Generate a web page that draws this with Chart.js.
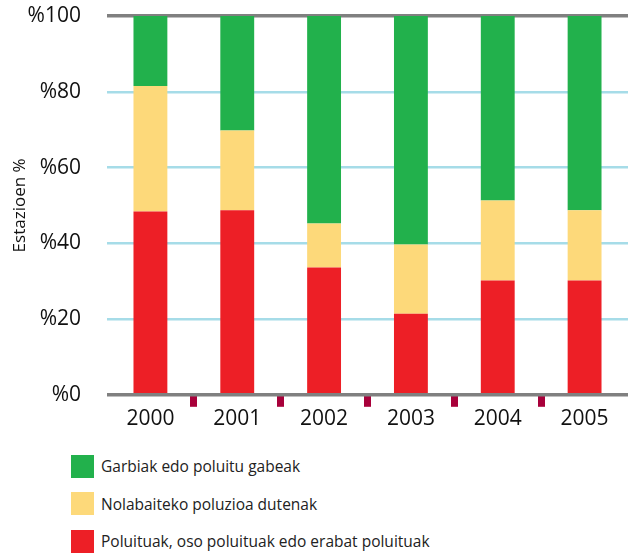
<!DOCTYPE html>
<html>
<head>
<meta charset="utf-8">
<script src="https://cdn.jsdelivr.net/npm/chart.js@4"></script>
<style>
  body { margin: 0; background: #fff; font-family: "Open Sans", sans-serif; overflow: hidden; }
  #wrap { position: absolute; left: 0; top: 0; width: 633px; height: 432px; }
  #legend { position: absolute; left: 71px; top: 454px; }
  .item { display: flex; align-items: center; height: 24px; margin-bottom: 13.5px; font-size: 15.5px; color: #222; }
  .box { width: 23px; height: 23px; margin-right: 7px; }
</style>
</head>
<body>
<div id="wrap"><canvas id="grafic"></canvas></div>
<div id="legend"></div>
<script>
const years = ['2000', '2001', '2002', '2003', '2004', '2005'];
const polluted = [48.4, 48.7, 33.6, 21.4, 30.2, 30.2];
const somewhat = [33.1, 21.1, 11.6, 18.3, 21.1, 18.5];
const clean = [18.5, 30.2, 54.8, 60.3, 48.7, 51.3];
const yTicks = [0, 20, 40, 60, 80, 100];

const seriesNames = [
  'Poluituak, oso poluituak edo erabat poluituak',
  'Nolabaiteko poluzioa dutenak',
  'Garbiak edo poluitu gabeak'
];
const colors = ['#ed1f26', '#fdd97a', '#22b14c'];

const ctx = document.getElementById('grafic');

const data = {
  labels: years,
  datasets: [
    { label: seriesNames[0], data: polluted, backgroundColor: colors[0] },
    { label: seriesNames[1], data: somewhat, backgroundColor: colors[1] },
    { label: seriesNames[2], data: clean, backgroundColor: colors[2] }
  ]
};

const isEdge = (c) => c.tick && (c.tick.value === 0 || c.tick.value === 100);

const config = {
  type: 'bar',
  data: data,
  options: {
    responsive: false,
    animation: false,
    layout: { padding: { top: 16, right: 5, left: 10 } },
    datasets: { bar: { barPercentage: 0.39, categoryPercentage: 1 } },
    plugins: { legend: { display: false }, tooltip: { enabled: false } },
    scales: {
      x: {
        stacked: true,
        border: { display: false },
        grid: {
          offset: true,
          drawOnChartArea: false,
          tickLength: 12,
          tickWidth: 7,
          tickColor: (c) => (c.type !== 'tick' || c.index === 0) ? 'rgba(0,0,0,0)' : '#a8003a'
        },
        ticks: { color: '#111', font: { family: 'Open Sans', size: 21 }, padding: 0 }
      },
      y: {
        stacked: true,
        min: 0,
        max: 100,
        afterBuildTicks: (axis) => { axis.ticks = yTicks.map(v => ({ value: v })); },
        afterFit: (axis) => { axis.width = 97; },
        border: { display: false },
        grid: {
          drawTicks: true,
          tickLength: 26,
          tickColor: 'rgba(0,0,0,0)',
          color: (c) => isEdge(c) ? '#808080' : '#a6dce8',
          lineWidth: (c) => isEdge(c) ? 3.5 : 2.5
        },
        ticks: {
          color: '#111',
          padding: 0,
          font: { family: 'Open Sans', size: 21 },
          callback: (v) => '%' + v
        },
        title: {
          display: true,
          text: 'Estazioen %',
          color: '#111',
          font: { family: 'Open Sans', size: 17 },
          padding: { top: 0, bottom: 0 }
        }
      }
    }
  }
};

ctx.width = 633;
ctx.height = 432;
const chart = new Chart(ctx, config);

const legend = document.getElementById('legend');
for (let i = data.datasets.length - 1; i >= 0; i--) {
  const ds = data.datasets[i];
  const item = document.createElement('div');
  item.className = 'item';
  item.innerHTML = '<span class="box" style="background:' + ds.backgroundColor + '"></span>' + ds.label;
  legend.appendChild(item);
}
</script>
</body>
</html>
